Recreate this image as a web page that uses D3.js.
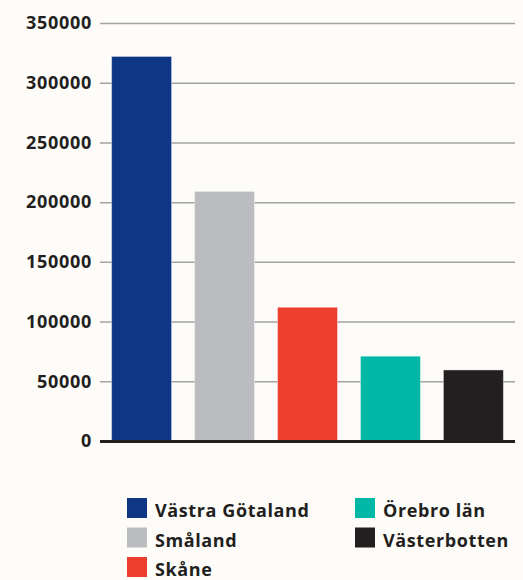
<!DOCTYPE html>
<html>
<head>
<meta charset="utf-8">
<script src="https://cdn.jsdelivr.net/npm/d3@7"></script>
<style>
  html, body { margin: 0; padding: 0; background: #fdfcf9; }
  svg { display: block; font-family: "Open Sans", Lato, sans-serif; }
</style>
</head>
<body>
<svg width="523" height="580"></svg>
<script>
// data
var regions = ["Västra Götaland", "Småland", "Skåne", "Örebro län", "Västerbotten"];
var values = [322000, 209000, 112000, 71000, 59500];
var colors = ["#0f3685", "#bbbcbf", "#ee3e2e", "#00b8a5", "#231f20"];
var ticks = [0, 50000, 100000, 150000, 200000, 250000, 300000, 350000];

var svg = d3.select("svg");
var plotLeft = 100, plotRight = 515, plotTop = 23, plotBottom = 441;

var xScale = d3.scaleBand().domain(regions).range([plotLeft, plotRight])
    .paddingInner(0.277).paddingOuter(0.14);
var yScale = d3.scaleLinear().domain([0, 350000]).range([plotBottom, plotTop]);

// gridlines + tick labels
var yAxis = svg.append("g")
    .attr("transform", "translate(" + plotLeft + ",0)")
    .call(d3.axisLeft(yScale).tickValues(ticks).tickFormat(d3.format("d"))
        .tickSize(-(plotRight - plotLeft)).tickPadding(8));
yAxis.select(".domain").remove();
yAxis.selectAll(".tick line").attr("stroke", "#a3a3a3").attr("stroke-width", 1.5);
yAxis.selectAll(".tick text")
    .attr("fill", "#231f20")
    .style("font-size", "18px")
    .style("font-weight", "700")
    .style("letter-spacing", "0.7px")
    .style("font-family", "'Open Sans', sans-serif");

// bars
svg.selectAll(".bar")
    .data(regions)
    .enter().append("rect")
    .attr("class", "bar")
    .attr("x", function(d) { return xScale(d); })
    .attr("y", function(d, i) { return yScale(values[i]); })
    .attr("width", xScale.bandwidth())
    .attr("height", function(d, i) { return yScale(0) - yScale(values[i]); })
    .attr("fill", function(d, i) { return colors[i]; })
    .attr("stroke", "#ffffff")
    .attr("stroke-opacity", 0.4)
    .attr("stroke-width", 1);

// zero line
svg.append("line")
    .attr("x1", plotLeft).attr("x2", plotRight)
    .attr("y1", yScale(0) + 0.5).attr("y2", yScale(0) + 0.5)
    .attr("stroke", "#231f20").attr("stroke-width", 3);

// legend, two columns
var legend = svg.append("g");
var item = legend.selectAll(".item")
    .data(regions)
    .enter().append("g")
    .attr("class", "item")
    .attr("transform", function(d, i) {
        var col = i < 3 ? 0 : 1, row = i < 3 ? i : i - 3;
        return "translate(" + (127 + col * 228) + "," + (498 + row * 29.5) + ")";
    });
item.append("rect")
    .attr("width", 20).attr("height", 20)
    .attr("fill", function(d, i) { return colors[i]; });
item.append("text")
    .attr("x", 28).attr("y", 19)
    .attr("fill", "#231f20")
    .style("font-size", "18px")
    .style("font-weight", "700")
    .style("letter-spacing", "0.6px")
    .text(function(d) { return d; });
</script>
</body>
</html>
